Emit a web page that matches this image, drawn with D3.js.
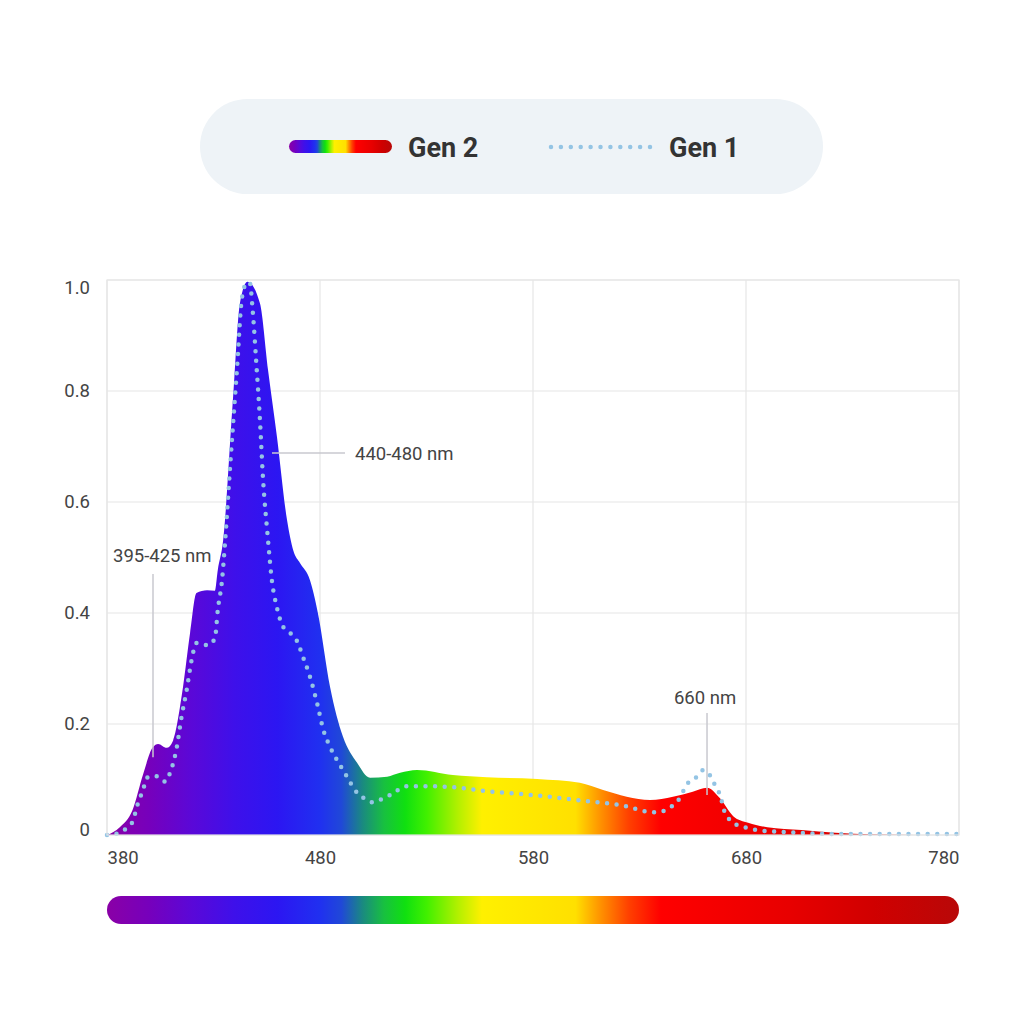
<!DOCTYPE html>
<html>
<head>
<meta charset="utf-8">
<script src="https://cdn.jsdelivr.net/npm/d3@7"></script>
<style>
  body { margin: 0; background: #fff; }
  text { font-family: Roboto, "Noto Sans", sans-serif; }
</style>
</head>
<body>
<div class="canvas"></div>
<script>
// wavelengths (nm) and relative intensity
const gen2Wl = [380, 386, 392, 397, 401.5, 404, 408, 411, 415.7, 419, 422, 427, 430.7, 432, 434.5, 439, 442.4, 446, 451.8, 455.6, 459.8, 464.5, 467.5, 470.6, 475.3, 479, 484.7, 490.8, 497.4, 503.5, 511.5, 517.6, 525.5, 542.4, 558.4, 581.9, 602, 612.9, 624, 635, 645.7, 655, 661.7, 667.8, 674, 681, 690, 706, 722, 739, 780];
const gen2Val = [0, 0.014, 0.045, 0.11, 0.158, 0.164, 0.157, 0.17, 0.267, 0.364, 0.436, 0.441, 0.44, 0.477, 0.53, 0.778, 0.958, 0.997, 0.958, 0.838, 0.717, 0.568, 0.512, 0.49, 0.459, 0.4, 0.267, 0.177, 0.13, 0.103, 0.105, 0.112, 0.117, 0.108, 0.104, 0.101, 0.094, 0.081, 0.069, 0.063, 0.069, 0.078, 0.085, 0.066, 0.034, 0.022, 0.014, 0.009, 0.004, 0.001, 0];

const gen1Wl = [380, 385, 389.4, 392, 394.6, 396.4, 399.4, 403.4, 407.3, 409.6, 412.8, 415, 417.4, 419.7, 422, 427.4, 430.7, 432, 434, 435.4, 437.7, 441, 443.4, 445.7, 447, 448.5, 450, 451.8, 453.2, 455.4, 457.4, 459.7, 462.7, 466, 469, 472, 475.3, 478.6, 481.6, 484.7, 488, 492.7, 496.4, 500.3, 504.4, 508, 512.9, 520.8, 530, 542.4, 558.4, 574, 589.6, 605.4, 621, 636.5, 641, 645.9, 649, 652, 657, 660, 663, 665.4, 667.8, 670, 672.5, 675.8, 680.5, 685, 700, 720, 780];
const gen1Val = [0, 0.003, 0.013, 0.024, 0.058, 0.076, 0.105, 0.106, 0.096, 0.112, 0.159, 0.213, 0.261, 0.315, 0.346, 0.342, 0.355, 0.405, 0.459, 0.526, 0.658, 0.838, 0.969, 0.995, 0.995, 0.94, 0.856, 0.748, 0.645, 0.54, 0.459, 0.411, 0.375, 0.364, 0.351, 0.321, 0.285, 0.238, 0.189, 0.159, 0.135, 0.105, 0.081, 0.067, 0.059, 0.063, 0.072, 0.088, 0.088, 0.086, 0.079, 0.074, 0.068, 0.061, 0.054, 0.041, 0.043, 0.054, 0.067, 0.09, 0.105, 0.117, 0.108, 0.09, 0.072, 0.041, 0.027, 0.018, 0.013, 0.009, 0.005, 0.002, 0.002];

const xTicks = [380, 480, 580, 680, 780];
const yTicks = [0, 0.2, 0.4, 0.6, 0.8, 1.0];

// spectrum colour stops along wavelength
const specWl = [380, 400, 420, 440, 460, 480, 490, 500, 510, 520, 530, 545, 556, 600, 612, 625, 640, 700, 740, 780];
const specCol = ['#8a00a6', '#7600bc', '#5a08d8', '#3e10ea', '#2c16f2', '#2030f0', '#2048d8', '#1a8a80', '#18c040', '#10e010', '#40f000', '#b4f000', '#fff000', '#ffe000', '#ff9000', '#ff4000', '#ff0000', '#e80000', '#d00000', '#b80808'];

const annotations = [
  { label: '395-425 nm', wl: 401.5, val: 0.158 },
  { label: '440-480 nm', wl: 459.8, val: 0.69 },
  { label: '660 nm', wl: 661.7, val: 0.085 }
];

const svg = d3.select('.canvas')
  .append('svg')
  .attr('width', 1024)
  .attr('height', 1024);

const x = d3.scaleLinear().domain([380, 780]).range([107, 959]);
const y = d3.scaleLinear().domain([0, 1]).range([835, 280]);

const defs = svg.append('defs');

function spectrum(id, x1, x2) {
  const g = defs.append('linearGradient')
    .attr('id', id)
    .attr('gradientUnits', 'userSpaceOnUse')
    .attr('x1', x1).attr('x2', x2)
    .attr('y1', 0).attr('y2', 0);
  g.selectAll('stop')
    .data(specWl)
    .enter()
    .append('stop')
    .attr('offset', d => (d - 380) / 400)
    .attr('stop-color', (d, i) => specCol[i]);
}
spectrum('spec', x(380), x(780));
spectrum('specLegend', 289, 392);

// legend
svg.append('rect')
  .attr('x', 200).attr('y', 99)
  .attr('width', 623).attr('height', 95)
  .attr('rx', 47.5)
  .attr('fill', '#eef3f7');

svg.append('rect')
  .attr('x', 289).attr('y', 140)
  .attr('width', 103).attr('height', 13)
  .attr('rx', 6.5)
  .attr('fill', 'url(#specLegend)');

svg.append('text')
  .attr('x', 408).attr('y', 157)
  .attr('font-size', 27).attr('font-weight', 700)
  .attr('fill', '#333')
  .text('Gen 2');

svg.append('line')
  .attr('x1', 551).attr('x2', 650)
  .attr('y1', 147).attr('y2', 147)
  .attr('stroke', '#94c4e4')
  .attr('stroke-width', 4.5)
  .attr('stroke-linecap', 'round')
  .attr('stroke-dasharray', '0 9.9');

svg.append('text')
  .attr('x', 669).attr('y', 157)
  .attr('font-size', 27).attr('font-weight', 700)
  .attr('fill', '#333')
  .text('Gen 1');

// grid
const grid = svg.append('g').attr('stroke', '#e6e6e6').attr('stroke-width', 1.2);
grid.selectAll('.gx')
  .data(xTicks)
  .enter()
  .append('line')
  .attr('x1', d => x(d)).attr('x2', d => x(d))
  .attr('y1', y(1)).attr('y2', y(0));
grid.selectAll('.gy')
  .data(yTicks)
  .enter()
  .append('line')
  .attr('x1', x(380)).attr('x2', x(780))
  .attr('y1', d => y(d)).attr('y2', d => y(d));

// gen 2 area
const gen2 = gen2Wl.map((w, i) => ({ w, v: gen2Val[i] }));
const gen1 = gen1Wl.map((w, i) => ({ w, v: gen1Val[i] }));

const area = d3.area()
  .x(d => x(d.w))
  .y0(y(0))
  .y1(d => y(d.v))
  .curve(d3.curveMonotoneX);

svg.append('path')
  .datum(gen2)
  .attr('d', area)
  .attr('fill', 'url(#spec)');

// annotation leader lines
const ann = svg.append('g').attr('stroke', '#c9c9cf').attr('stroke-width', 1.5);
ann.append('line')
  .attr('x1', 153).attr('x2', 153)
  .attr('y1', 574).attr('y2', y(0.14));
ann.append('line')
  .attr('x1', 272).attr('x2', 345)
  .attr('y1', 453).attr('y2', 453);
ann.append('line')
  .attr('x1', x(661.7)).attr('x2', x(661.7))
  .attr('y1', 713).attr('y2', 795);

// gen 1 dotted line
const line = d3.line()
  .x(d => x(d.w))
  .y(d => y(d.v))
  .curve(d3.curveMonotoneX);

svg.append('path')
  .datum(gen1)
  .attr('d', line)
  .attr('fill', 'none')
  .attr('stroke', '#94c4e4')
  .attr('stroke-width', 4.5)
  .attr('stroke-linecap', 'round')
  .attr('stroke-dasharray', '0 9.6');

// annotation labels
const fs = 18.5;
svg.append('text').attr('x', 113).attr('y', 562)
  .attr('font-size', fs).attr('fill', '#444').text(annotations[0].label);
svg.append('text').attr('x', 355).attr('y', 460)
  .attr('font-size', fs).attr('fill', '#444').text(annotations[1].label);
svg.append('text').attr('x', x(annotations[2].wl) - 2).attr('y', 704)
  .attr('text-anchor', 'middle')
  .attr('font-size', fs).attr('fill', '#444').text(annotations[2].label);

// plot frame
svg.append('rect')
  .attr('x', x(380)).attr('y', y(1))
  .attr('width', x(780) - x(380)).attr('height', y(0) - y(1))
  .attr('fill', 'none')
  .attr('stroke', '#e6e6e6')
  .attr('stroke-width', 1.2);

// axes
const yAxis = svg.append('g')
  .attr('transform', `translate(${x(380)},0)`)
  .call(d3.axisLeft(y).tickValues(yTicks).tickSize(0).tickPadding(17)
    .tickFormat(d => d === 0 ? '0' : d3.format('.1f')(d)));
yAxis.select('.domain').remove();
yAxis.selectAll('text')
  .attr('font-size', fs)
  .attr('fill', '#444')
  .style('font-family', 'Roboto, sans-serif')
  .attr('dy', d => d === 1 ? '0.72em' : d === 0 ? '0' : '0.32em');

const xAxis = svg.append('g')
  .attr('transform', `translate(0,${y(0)})`)
  .call(d3.axisBottom(x).tickValues(xTicks).tickSize(0).tickPadding(16));
xAxis.select('.domain').remove();
xAxis.selectAll('text')
  .attr('font-size', fs)
  .attr('fill', '#444')
  .style('font-family', 'Roboto, sans-serif')
  .attr('text-anchor', (d, i) => i === 0 ? 'start' : i === xTicks.length - 1 ? 'end' : 'middle');

// spectrum bar
svg.append('rect')
  .attr('x', x(380)).attr('y', 896)
  .attr('width', x(780) - x(380)).attr('height', 28)
  .attr('rx', 14)
  .attr('fill', 'url(#spec)');
</script>
</body>
</html>
